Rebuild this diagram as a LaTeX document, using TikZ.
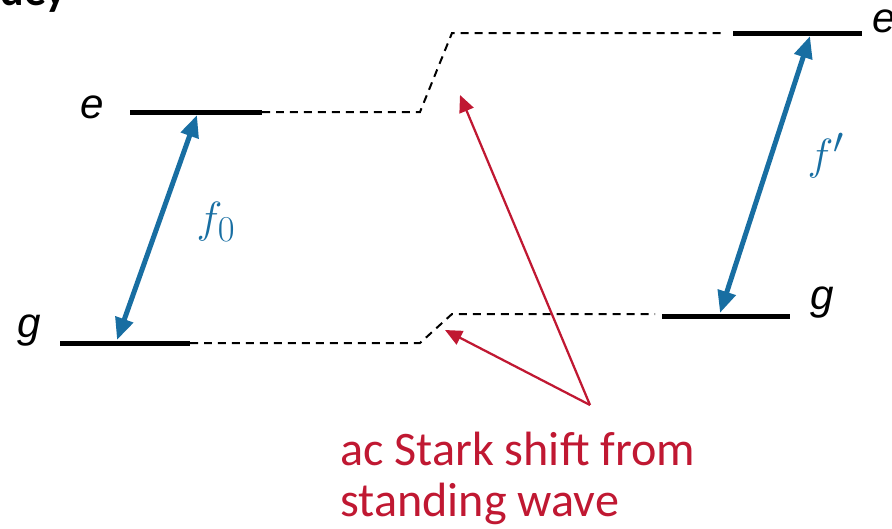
\documentclass[tikz,border=0pt]{standalone}
\usepackage{fontspec}
\newfontfamily\arialfont{Liberation Sans}
\newfontfamily\calibrifont{Carlito}
\usetikzlibrary{arrows.meta, positioning}
\definecolor{transblue}{RGB}{24,110,162}
\definecolor{starkred}{RGB}{192,24,50}

\begin{document}
\begin{tikzpicture}[x=0.02cm, y=-0.02cm,
    level/.style={line width=0.1cm},
    shifted/.style={dash pattern=on 0.16cm off 0.12cm, line width=0.04cm},
    transition/.style={transblue, line width=0.1cm, {Triangle[length=0.44cm,width=0.36cm]}-{Triangle[length=0.44cm,width=0.36cm]}},
    pointer/.style={starkred, line width=0.045cm, -{Triangle[length=0.34cm,width=0.3cm]}},
    statelabel/.style={font=\arialfont\itshape\fontsize{24}{28}\selectfont, inner sep=0pt, anchor=base},
    freqlabel/.style={transblue, font=\fontsize{28}{32}\selectfont, inner sep=0pt},
    notetext/.style={starkred, font=\calibrifont\fontsize{27.4}{28.8}\selectfont, align=left, inner sep=0pt}]
        \useasboundingbox (0,0) rectangle (892,528);

        % cut-off text from the slide above
        \node[anchor=base east, font=\calibrifont\bfseries\fontsize{25}{28}\selectfont, inner sep=0pt] (cuttext) at (67,5) {dey};

        % unshifted levels
        \coordinate (e0l) at (130,112);
        \coordinate (e0r) at (262,112);
        \coordinate (g0l) at (60,343);
        \coordinate (g0r) at (190,343);
        % shifted levels
        \coordinate (e1l) at (733,33);
        \coordinate (e1r) at (862,33);
        \coordinate (g1l) at (662,316);
        \coordinate (g1r) at (790,316);

        \draw[level] (e0l) -- (e0r);
        \draw[level] (g0l) -- (g0r);
        \draw[level] (e1l) -- (e1r);
        \draw[level] (g1l) -- (g1r);

        \node[statelabel] (e0) at (92,118) {e};
        \node[statelabel] (g0) at (29,337) {g};
        \node[statelabel] (e1) at (884,32) {e};
        \node[statelabel] (g1) at (822,309) {g};

        % dashed guides through the shift
        \coordinate (ekink) at (420,112);
        \coordinate (eup) at (452,33);
        \coordinate (eend) at (725,33);
        \coordinate (gkink) at (420,343);
        \coordinate (gup) at (452,314);
        \coordinate (gend) at (655,314);
        \draw[shifted] (e0r) -- (ekink) -- (eup) -- (eend);
        \draw[shifted] (g0r) -- (gkink) -- (gup) -- (gend);

        % transitions
        \coordinate (f0top) at (197,115);
        \coordinate (f0bot) at (117,340);
        \coordinate (f1top) at (810,36);
        \coordinate (f1bot) at (720,313);
        \draw[transition] (f0top) -- (f0bot);
        \draw[transition] (f1top) -- (f1bot);
        \node[freqlabel] (f0) at (216,222) {$f_0$};
        \node[freqlabel] (f1) at (826,156) {$f'$};

        % note
        \node[notetext, anchor=north west] (note) at (340,432) {ac Stark shift from\\standing wave};
        \coordinate (apex) at (590,405);
        \coordinate (upshift) at (460,95);
        \coordinate (lowshift) at (445,330);
        \draw[pointer] (apex) -- (upshift);
        \draw[pointer] (apex) -- (lowshift);
\end{tikzpicture}
\end{document}
